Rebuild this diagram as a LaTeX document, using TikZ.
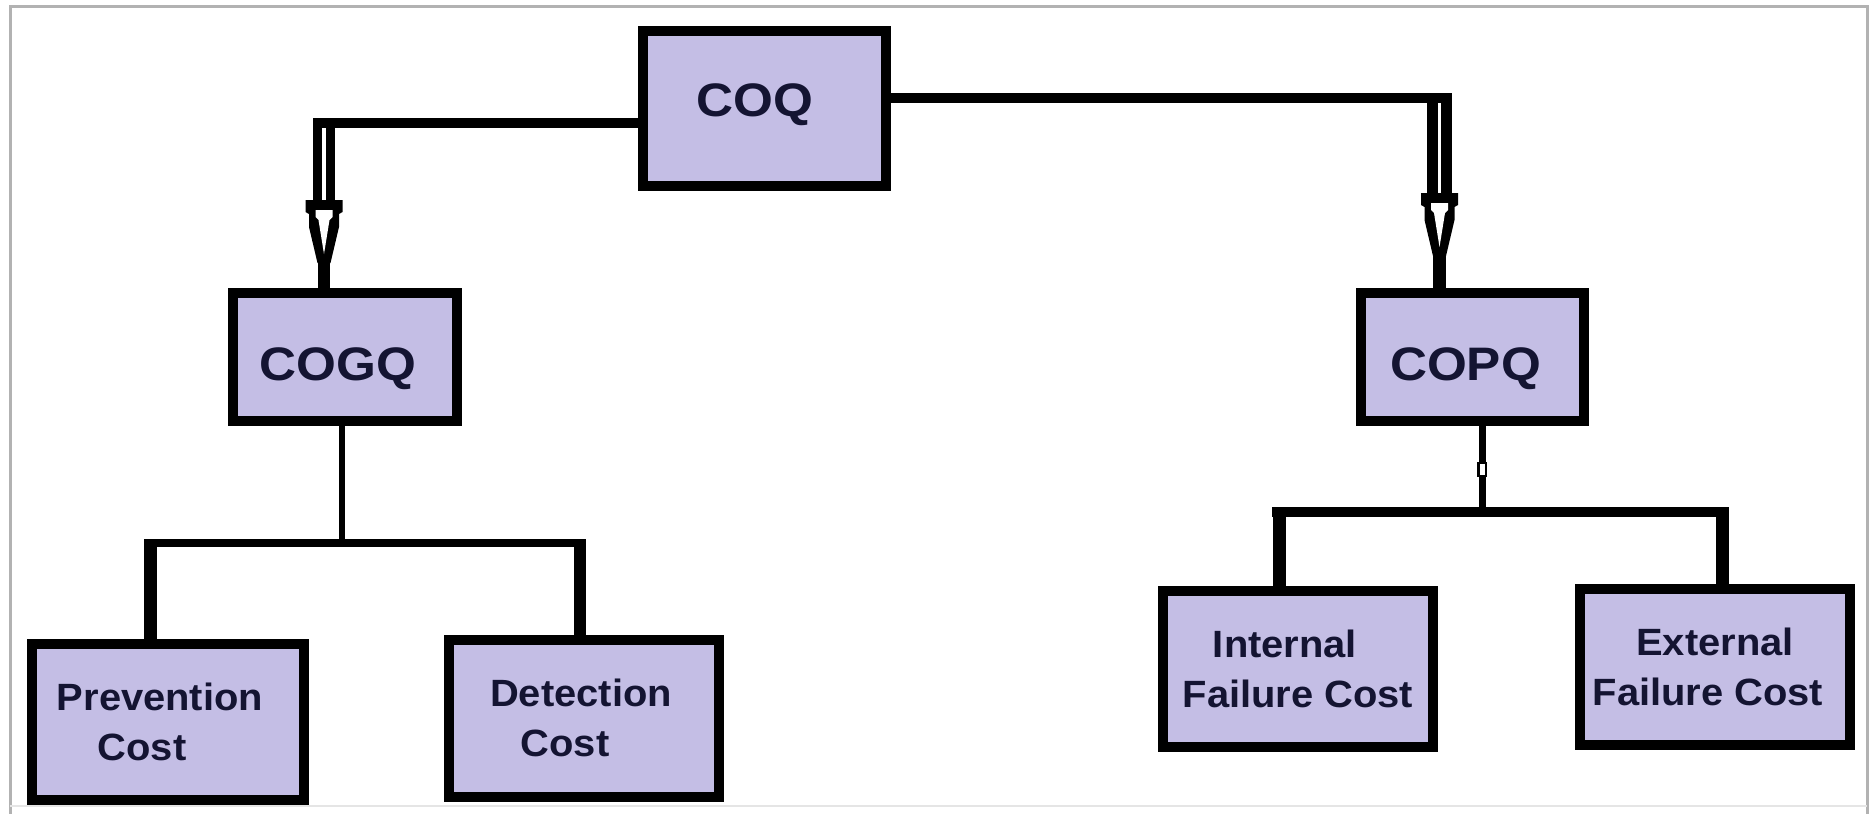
\documentclass[tikz,border=0pt]{standalone}
\usepackage{fontspec}
\setmainfont{Liberation Sans}
\newfontfamily\topfont[FakeStretch=1.09]{Liberation Sans}
\newfontfamily\lowfont[FakeStretch=1.05]{Liberation Sans}
\usetikzlibrary{calc}
\definecolor{boxfill}{RGB}{196,190,229}
\definecolor{txt}{RGB}{20,20,50}
\begin{document}
\begin{tikzpicture}[x=1pt,y=-1pt,
  box/.style={draw=black, line width=10pt, fill=boxfill, inner sep=0pt, text=txt, align=center},
  topbox/.style={box, font=\topfont\bfseries\fontsize{47}{50}\selectfont},
  lowbox/.style={box, font=\lowfont\bfseries\fontsize{38}{50}\selectfont, minimum width=270pt, minimum height=156pt},
  hollowhead/.pic={
    \fill[black] (-18.5,0) -- (18.5,0) -- (18.5,12) -- (15,14) -- (15,27) -- (6.5,63) -- (-6.5,63) -- (-15,27) -- (-15,14) -- (-18.5,12) -- cycle;
    \fill[white] (-8.5,10) -- (8.5,10) -- (8.5,17) -- (5.5,20) -- (0,54) -- (-5.5,20) -- (-8.5,17) -- cycle;
  }]
\useasboundingbox (0,0) rectangle (1872,814);
\fill[white] (0,0) rectangle (1872,814);
% frame
\draw[gray!60, line width=3pt] (10,814) -- (10,6.5) -- (1867,6.5) -- (1867,814);
\draw[gray!20, line width=2pt] (10,806) -- (1867,806);

% boxes
\node[topbox, minimum width=243pt, minimum height=155pt, text height=34pt, text depth=19pt] (coq) at (764.5,108.5) {COQ\kern20pt};
\node[topbox, minimum width=224pt, minimum height=128pt, text height=50pt, text depth=3pt] (cogq) at (345,357) {COGQ\kern14pt};
\node[topbox, minimum width=223pt, minimum height=128pt, text height=49pt, text depth=3pt] (copq) at (1472.5,357) {COPQ\kern14pt};
\node[lowbox, minimum width=272pt] (prev) at (168,722) {Prevention\kern16pt\\Cost\kern52pt};
\node[lowbox, minimum height=157pt] (det) at (584,718) {Detection\kern6pt\\Cost\kern38pt};
\node[lowbox] (int) at (1298,669) {Internal\kern26pt\\Failure Cost};
\node[lowbox] (ext) at (1715,667) {External\\Failure Cost\kern14pt};

% left branch COQ -> COGQ
\coordinate (lc) at (324,123);
\coordinate (lv) at (324,118);
\coordinate (lh) at (324,200);
\draw[line width=10pt] (coq.west |- lc) -- (lc);
\draw[line width=22pt] (lv) -- ($(lh)+(0,1)$);
\draw[white, line width=4pt] ($(lv)+(0,10)$) -- ($(lh)+(0,12)$);
\pic at (lh) {hollowhead};
\draw[line width=12pt] ($(lh)+(0,62)$) -- (cogq.north -| lh);

% right branch COQ -> COPQ
\coordinate (rc) at (1439.5,98);
\coordinate (rv) at (1439.5,93);
\coordinate (rh) at (1439.5,193);
\draw[line width=10pt] (coq.east |- rc) -- (rc);
\draw[line width=25pt] (rv) -- ($(rh)+(0,1)$);
\draw[white, line width=3.5pt] ($(rv)+(0,10)$) -- ($(rh)+(0,12)$);
\pic at (rh) {hollowhead};
\draw[line width=13pt] ($(rh)+(0,62)$) -- (copq.north -| rh);

% COGQ tree
\coordinate (bl) at (342,543);
\coordinate (bla) at (144,543);
\coordinate (blb) at (586,543);
\draw[line width=6pt] (cogq.south -| bl) -- (bl);
\draw[line width=8pt] (bla) -- (blb);
\coordinate (d1) at (150.5,539);
\coordinate (d2) at (580,539);
\draw[line width=13pt] (d1) -- (d1 |- prev.north);
\draw[line width=12pt] (d2) -- (d2 |- det.north);

% COPQ tree
\coordinate (br) at (1482,512);
\coordinate (bra) at (1272,512);
\coordinate (brb) at (1729,512);
\draw[line width=7pt] (copq.south -| br) -- (br);
\filldraw[fill=white, draw=black, line width=2.5pt] (1478.25,463) rectangle (1485.75,476);
\draw[line width=10pt] (bra) -- (brb);
\coordinate (d3) at (1279,507);
\coordinate (d4) at (1722.5,507);
\draw[line width=13pt] (d3) -- (d3 |- int.north);
\draw[line width=13pt] (d4) -- (d4 |- ext.north);
\end{tikzpicture}
\end{document}
